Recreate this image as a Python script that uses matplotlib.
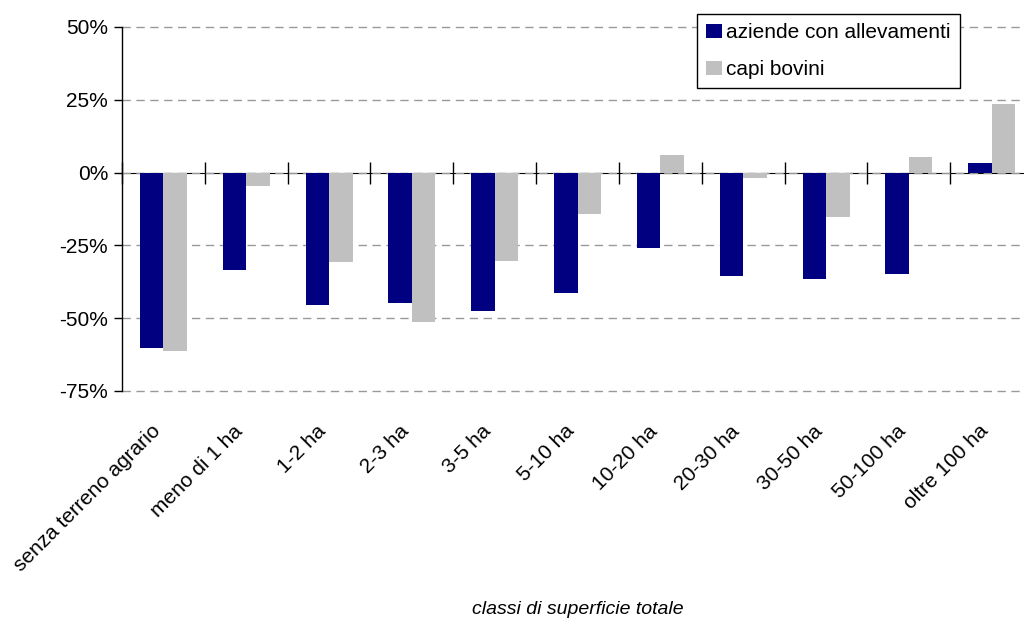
import matplotlib.pyplot as plt
import matplotlib.transforms as mtransforms
import numpy as np

plt.rcParams['font.family'] = ['Liberation Sans', 'DejaVu Sans']

categories = ['senza terreno agrario', 'meno di 1 ha', '1-2 ha', '2-3 ha', '3-5 ha',
              '5-10 ha', '10-20 ha', '20-30 ha', '30-50 ha', '50-100 ha', 'oltre 100 ha']
aziende = [-60.3, -33.3, -45.4, -44.7, -47.6, -41.4, -25.9, -35.5, -36.6, -34.8, 3.4]
bovini = [-61.4, -4.7, -30.6, -51.4, -30.2, -14.1, 5.9, -1.7, -15.2, 5.5, 23.4]
y_ticks = [-75, -50, -25, 0, 25, 50]

fig = plt.figure(figsize=(10.24, 6.25), dpi=100)
ax = fig.add_axes([122 / 1024, 1 - 391 / 625, 1 - 122 / 1024, (391 - 27) / 625])

x = np.arange(len(categories))
w = 0.284
ax.bar(x - w / 2, aziende, w, color='#000080', label='aziende con allevamenti', zorder=3)
ax.bar(x + w / 2, bovini, w, color='#C0C0C0', label='capi bovini', zorder=3)

ymin, ymax = -75, 50
ax.set_ylim(ymin, ymax)
ax.set_xlim(-0.5, 10.39)
ax.set_yticks(y_ticks)
ax.set_yticklabels([f'{v}%' for v in y_ticks])
ax.yaxis.grid(True, color='#999999', linestyle=(0, (6, 4)), linewidth=1, zorder=0)
for gl in ax.get_ygridlines():
    gl.set_clip_on(False)

for s in ['top', 'right', 'bottom']:
    ax.spines[s].set_visible(False)
ax.spines['left'].set_linewidth(1)
ax.tick_params(axis='y', direction='out', length=6, width=1, pad=4, labelsize=15)

# category labels at the bottom, rotated
ax.set_xticks(x)
ax.set_xticklabels(categories, rotation=45, ha='right', rotation_mode='anchor', fontsize=15)
ax.tick_params(axis='x', length=0, pad=22)
offset = mtransforms.ScaledTranslation(-13 / 100, 0, fig.dpi_scale_trans)
for lab in ax.get_xticklabels():
    lab.set_transform(lab.get_transform() + offset)

# zero line with boundary ticks
sec = ax.secondary_xaxis((0 - ymin) / (ymax - ymin))
sec.set_xticks(np.arange(len(categories) + 1) - 0.5)
sec.set_xticklabels([])
sec.tick_params(direction='inout', length=16, width=1, labelbottom=False, labeltop=False)
sec.spines['bottom'].set_linewidth(1.2)

leg = ax.legend(loc='upper left', bbox_to_anchor=(697 / 1024, 1 - 14 / 625),
                bbox_transform=fig.transFigure, borderaxespad=0, fontsize=15,
                frameon=True, fancybox=False, edgecolor='black', framealpha=1,
                handlelength=0.75, handleheight=0.7, handletextpad=0.2,
                labelspacing=0.85, borderpad=0.45)
leg.get_frame().set_linewidth(1)

fig.text(578 / 1024, 1 - 610 / 625, 'classi di superficie totale', ha='center', va='center',
         style='italic', fontsize=14)

fig.savefig('out.png', dpi=100)
